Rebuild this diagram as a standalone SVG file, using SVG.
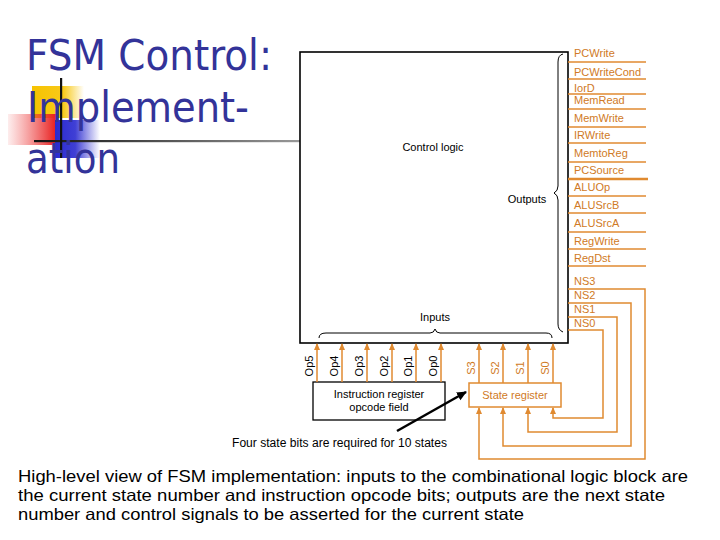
<svg xmlns="http://www.w3.org/2000/svg" width="720" height="540" viewBox="0 0 720 540">
<style>
.title{font-family:"DejaVu Sans","Liberation Sans",sans-serif;font-size:42px;fill:#333399}
.lbl{font-family:"Liberation Sans",Arial,sans-serif;font-size:11px;fill:#000}
.olbl{font-family:"Liberation Sans",Arial,sans-serif;font-size:11px;fill:#d07a26}
.oline{stroke:#e08a30;stroke-width:1.5;fill:none}
.wire{stroke:#e08a30;stroke-width:1.5;fill:none}
.brace{stroke:#000;stroke-width:1;fill:none}
.para{font-family:"Liberation Sans",Arial,sans-serif;font-size:16.5px;fill:#000}
</style>
<defs>
<marker id="oarr" markerWidth="8" markerHeight="8" refX="6" refY="4" orient="auto" markerUnits="userSpaceOnUse">
<path d="M0,1 L7,4 L0,7 Z" fill="#e08a30"/>
</marker>
<marker id="karr" markerWidth="12" markerHeight="12" refX="9" refY="5" orient="auto" markerUnits="userSpaceOnUse">
<path d="M0,0.5 L10,5 L0,9.5 Z" fill="#000"/>
</marker>
<linearGradient id="gy" x1="0" y1="0" x2="1" y2="0">
<stop offset="0" stop-color="#f7c300" stop-opacity="1"/>
<stop offset="0.6" stop-color="#f7c300" stop-opacity="0.9"/>
<stop offset="1" stop-color="#f7c300" stop-opacity="0"/>
</linearGradient>
<linearGradient id="gr" x1="0" y1="0" x2="1" y2="0">
<stop offset="0" stop-color="#f05050" stop-opacity="0.1"/>
<stop offset="1" stop-color="#e81e1e" stop-opacity="1"/>
</linearGradient>
<linearGradient id="gb" x1="0" y1="0" x2="1" y2="0">
<stop offset="0" stop-color="#2a2ad0" stop-opacity="1"/>
<stop offset="0.45" stop-color="#2a2ad0" stop-opacity="0.9"/>
<stop offset="1" stop-color="#2a2ad0" stop-opacity="0"/>
</linearGradient>
<linearGradient id="gl" x1="0" y1="0" x2="1" y2="0">
<stop offset="0" stop-color="#111"/>
<stop offset="1" stop-color="#999"/>
</linearGradient>
</defs>

<g id="title-decoration">
<rect x="32" y="86" width="52" height="32" fill="url(#gy)"/>
<rect x="8" y="114" width="48" height="31" fill="url(#gr)"/>
<rect x="55" y="120" width="45" height="38" fill="url(#gb)"/>
<rect x="34" y="140" width="266" height="2.2" fill="url(#gl)"/>
<rect x="60" y="78" width="2.2" height="80" fill="#111"/>
</g>

<g id="title">
<text class="title" x="26" y="70" textLength="246" lengthAdjust="spacingAndGlyphs">FSM Control:</text>
<text class="title" x="27" y="122" textLength="222" lengthAdjust="spacingAndGlyphs">Implement-</text>
<text class="title" x="26" y="173" textLength="94" lengthAdjust="spacingAndGlyphs">ation</text>
</g>

<g id="control-logic">
<rect x="300" y="52" width="268" height="291" fill="#fff" stroke="#000" stroke-width="1.6"/>
<text class="lbl" x="433" y="151" text-anchor="middle">Control logic</text>
<text class="lbl" x="527" y="203" text-anchor="middle">Outputs</text>
<text class="lbl" x="435" y="321" text-anchor="middle">Inputs</text>
<path class="brace" d="M563,54 Q558,55 558,62 L558,186 Q558,191 554,193 Q558,195 558,200 L558,324 Q558,330 563,332"/>
<path class="brace" d="M319,338 Q319,333 326,333 L430,333 Q434,333 435,329 Q436,333 440,333 L546,333 Q552,333 552,338"/>
</g>

<g id="outputs">
<text class="olbl" x="574" y="57">PCWrite</text>
<text class="olbl" x="574" y="76">PCWriteCond</text>
<text class="olbl" x="574" y="92">IorD</text>
<text class="olbl" x="574" y="104">MemRead</text>
<text class="olbl" x="574" y="122">MemWrite</text>
<text class="olbl" x="574" y="139">IRWrite</text>
<text class="olbl" x="574" y="157">MemtoReg</text>
<text class="olbl" x="574" y="174">PCSource</text>
<text class="olbl" x="574" y="191">ALUOp</text>
<text class="olbl" x="574" y="209">ALUSrcB</text>
<text class="olbl" x="574" y="227">ALUSrcA</text>
<text class="olbl" x="574" y="245">RegWrite</text>
<text class="olbl" x="574" y="262">RegDst</text>
<text class="olbl" x="574" y="285">NS3</text>
<text class="olbl" x="574" y="299">NS2</text>
<text class="olbl" x="574" y="313">NS1</text>
<text class="olbl" x="574" y="327">NS0</text>
</g>

<g id="instruction-register">
<rect x="313" y="382" width="132" height="38" fill="#fff" stroke="#000" stroke-width="1.3"/>
<text class="lbl" x="379" y="398" text-anchor="middle">Instruction register</text>
<text class="lbl" x="379" y="411" text-anchor="middle">opcode field</text>
</g>

<g id="state-register">
<rect x="469" y="383" width="92" height="24" fill="#fff" stroke="#e08a30" stroke-width="1.5"/>
<text class="olbl" x="515" y="399" text-anchor="middle">State register</text>
</g>

<g id="connectors">
<line class="oline" x1="568" y1="62" x2="646" y2="62"/>
<line class="oline" x1="568" y1="79" x2="646" y2="79"/>
<line class="oline" x1="568" y1="94" x2="646" y2="94"/>
<line class="oline" x1="568" y1="109" x2="646" y2="109"/>
<line class="oline" x1="568" y1="127" x2="646" y2="127"/>
<line class="oline" x1="568" y1="143" x2="646" y2="143"/>
<line class="oline" x1="568" y1="162" x2="646" y2="162"/>
<line class="oline" x1="568" y1="179" x2="648" y2="179" style="stroke-width:2.6"/>
<line class="oline" x1="568" y1="196" x2="646" y2="196"/>
<line class="oline" x1="568" y1="213" x2="646" y2="213"/>
<line class="oline" x1="568" y1="232" x2="646" y2="232"/>
<line class="oline" x1="568" y1="249" x2="646" y2="249"/>
<line class="oline" x1="568" y1="266" x2="646" y2="266"/>
<path class="wire" d="M568,289 H645 V459 H479 V408" marker-end="url(#oarr)"/>
<path class="wire" d="M568,303 H631 V446 H503 V408" marker-end="url(#oarr)"/>
<path class="wire" d="M568,317 H617 V432 H528 V408" marker-end="url(#oarr)"/>
<path class="wire" d="M568,330 H603 V418 H553 V408" marker-end="url(#oarr)"/>
<line class="wire" x1="479" y1="383" x2="479" y2="344" marker-end="url(#oarr)"/>
<line class="wire" x1="503" y1="383" x2="503" y2="344" marker-end="url(#oarr)"/>
<line class="wire" x1="528" y1="383" x2="528" y2="344" marker-end="url(#oarr)"/>
<line class="wire" x1="553" y1="383" x2="553" y2="344" marker-end="url(#oarr)"/>
<line class="wire" x1="317" y1="382" x2="317" y2="344" marker-end="url(#oarr)"/>
<line class="wire" x1="342" y1="382" x2="342" y2="344" marker-end="url(#oarr)"/>
<line class="wire" x1="367" y1="382" x2="367" y2="344" marker-end="url(#oarr)"/>
<line class="wire" x1="392" y1="382" x2="392" y2="344" marker-end="url(#oarr)"/>
<line class="wire" x1="416" y1="382" x2="416" y2="344" marker-end="url(#oarr)"/>
<line class="wire" x1="441" y1="382" x2="441" y2="344" marker-end="url(#oarr)"/>
<line x1="397" y1="431" x2="466" y2="392" stroke="#000" stroke-width="2.5" marker-end="url(#karr)"/>
</g>

<g id="bit-labels">
<text class="lbl" transform="translate(313,366) rotate(-90)" text-anchor="middle">Op5</text>
<text class="lbl" transform="translate(338,366) rotate(-90)" text-anchor="middle">Op4</text>
<text class="lbl" transform="translate(363,366) rotate(-90)" text-anchor="middle">Op3</text>
<text class="lbl" transform="translate(388,366) rotate(-90)" text-anchor="middle">Op2</text>
<text class="lbl" transform="translate(412,366) rotate(-90)" text-anchor="middle">Op1</text>
<text class="lbl" transform="translate(437,366) rotate(-90)" text-anchor="middle">Op0</text>
<text class="olbl" transform="translate(475,368) rotate(-90)" text-anchor="middle">S3</text>
<text class="olbl" transform="translate(499,368) rotate(-90)" text-anchor="middle">S2</text>
<text class="olbl" transform="translate(524,368) rotate(-90)" text-anchor="middle">S1</text>
<text class="olbl" transform="translate(549,368) rotate(-90)" text-anchor="middle">S0</text>
</g>

<g id="captions">
<text class="lbl" x="232" y="447" style="font-size:12px" textLength="215" lengthAdjust="spacingAndGlyphs">Four state bits are required for 10 states</text>
<text class="para" x="18" y="482" textLength="670" lengthAdjust="spacingAndGlyphs">High-level view of FSM implementation: inputs to the combinational logic block are</text>
<text class="para" x="18" y="501" textLength="647" lengthAdjust="spacingAndGlyphs">the current state number and instruction opcode bits; outputs are the next state</text>
<text class="para" x="18" y="520" textLength="506" lengthAdjust="spacingAndGlyphs">number and control signals to be asserted for the current state</text>
</g>
</svg>
